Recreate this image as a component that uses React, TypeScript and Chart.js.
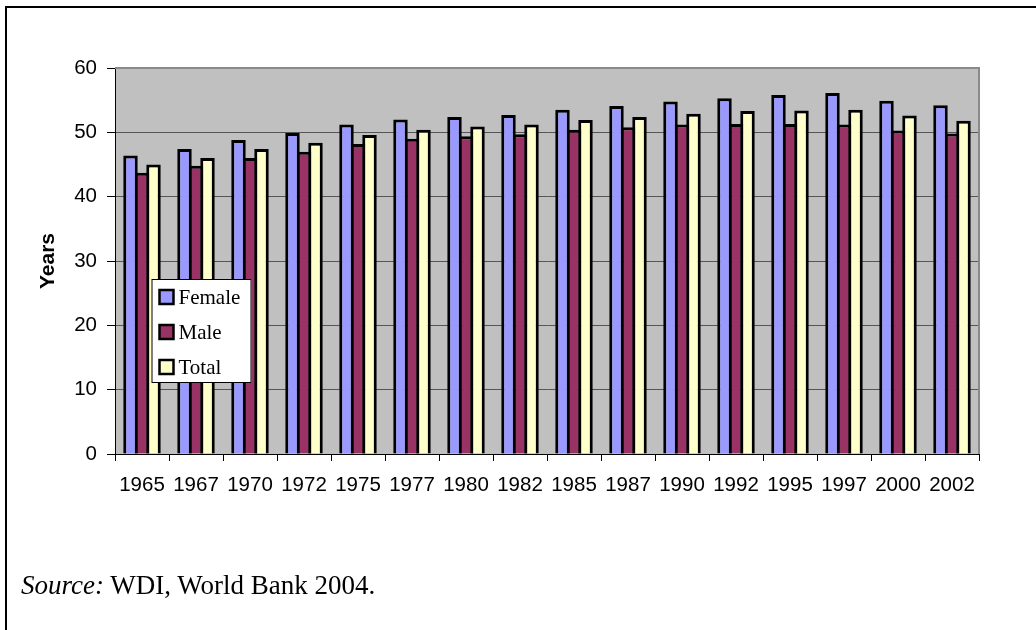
import React, { useEffect, useRef } from "react";
import { Chart, registerables } from "chart.js";

Chart.register(...registerables);

const years = ["1965", "1967", "1970", "1972", "1975", "1977", "1980", "1982", "1985", "1987", "1990", "1992", "1995", "1997", "2000", "2002"];
const female = [46.4, 47.4, 48.8, 49.9, 51.2, 52.0, 52.4, 52.7, 53.5, 54.1, 54.8, 55.3, 55.8, 56.1, 54.9, 54.2];
const male = [43.7, 44.8, 46.0, 47.0, 48.2, 49.0, 49.4, 49.7, 50.4, 50.8, 51.2, 51.3, 51.3, 51.2, 50.3, 49.8];
const total = [45.0, 46.0, 47.4, 48.4, 49.6, 50.4, 50.9, 51.2, 51.9, 52.4, 52.9, 53.3, 53.4, 53.5, 52.6, 51.8];
const seriesNames = ["Female", "Male", "Total"];
const seriesColors = ["#9999FF", "#993366", "#FFFFCC"];
const yTicks = [0, 10, 20, 30, 40, 50, 60];

const SANS = "'Liberation Sans', Arial, sans-serif";
const SERIF = "'Liberation Serif', 'Times New Roman', serif";

const plotBg = {
  id: "plotBg",
  beforeDraw(chart: any) {
    const { ctx, chartArea: a } = chart;
    ctx.save();
    ctx.fillStyle = "#C0C0C0";
    ctx.fillRect(a.left, a.top, a.right - a.left, a.bottom - a.top);
    ctx.restore();
  },
  beforeDatasetsDraw(chart: any) {
    const { ctx, chartArea: a } = chart;
    ctx.save();
    ctx.strokeStyle = "#8a8a8a";
    ctx.lineWidth = 2;
    ctx.beginPath();
    ctx.moveTo(a.left, a.top);
    ctx.lineTo(a.right, a.top);
    ctx.lineTo(a.right, a.bottom);
    ctx.stroke();
    ctx.restore();
  },
};

const boxLegend = {
  id: "boxLegend",
  afterDraw(chart: any) {
    const { ctx, chartArea: a } = chart;
    const x = a.left + 36.5;
    const y = a.top + 211;
    const w = 100;
    const h = 104;
    ctx.save();
    ctx.fillStyle = "#ffffff";
    ctx.fillRect(x, y, w, h);
    ctx.strokeStyle = "#000";
    ctx.lineWidth = 1;
    ctx.strokeRect(x + 0.5, y + 0.5, w - 1, h - 1);
    ctx.font = `21px ${SERIF}`;
    ctx.textBaseline = "middle";
    ctx.textAlign = "left";
    chart.data.datasets.forEach((ds: any, i: number) => {
      const cy = y + 18 + i * 35;
      ctx.fillStyle = ds.backgroundColor;
      ctx.fillRect(x + 8, cy - 7, 14, 14);
      ctx.strokeStyle = "#000";
      ctx.lineWidth = 2.5;
      ctx.strokeRect(x + 8, cy - 7, 14, 14);
      ctx.fillStyle = "#000";
      ctx.fillText(ds.label, x + 27, cy + 1);
    });
    ctx.restore();
  },
};

export default function App() {
  const ref = useRef<HTMLCanvasElement>(null);

  useEffect(() => {
    if (!ref.current) return;
    const values = [female, male, total];
    const chart = new Chart(ref.current, {
      type: "bar",
      data: {
        labels: years,
        datasets: values.map((v, i) => ({
          label: seriesNames[i],
          data: v,
          backgroundColor: seriesColors[i],
          borderColor: "#000",
          borderWidth: 3,
          borderSkipped: "bottom",
          categoryPercentage: 0.639,
          barPercentage: 1.26,
        })),
      },
      options: {
        animation: false,
        responsive: false,
        maintainAspectRatio: false,
        layout: { padding: { left: 0, top: 68, right: 57, bottom: 0 } },
        plugins: { legend: { display: false }, tooltip: { enabled: false }, title: { display: false } },
        scales: {
          x: {
            type: "category",
            offset: true,
            grid: { offset: true, drawOnChartArea: false, tickLength: 7, tickColor: "#000", tickWidth: 1 },
            border: { color: "#000", width: 1 },
            ticks: { color: "#000", font: { family: SANS, size: 20.5 }, padding: 12, maxRotation: 0, autoSkip: false },
            afterFit: (s: any) => {
              s.height = 176;
            },
          },
          y: {
            min: 0,
            max: 60,
            afterBuildTicks: (s: any) => {
              s.ticks = yTicks.map((v) => ({ value: v }));
            },
            grid: { color: "#555555", lineWidth: 1, tickLength: 8, tickColor: "#000" },
            border: { color: "#000", width: 1 },
            ticks: { color: "#000", font: { family: SANS, size: 20.5 }, padding: 10 },
            title: {
              display: true,
              text: "Years",
              color: "#000",
              font: { family: SANS, size: 21, weight: "bold" },
              padding: { top: 36, bottom: 0 },
            },
            afterFit: (s: any) => {
              s.width = 115;
            },
          },
        },
      },
      plugins: [plotBg, boxLegend],
    });
    return () => chart.destroy();
  }, []);

  return (
    <div style={{ position: "fixed", left: 0, top: 0, width: 1036, height: 630, background: "#fff", overflow: "hidden" }}>
      <canvas ref={ref} width={1036} height={630} style={{ position: "absolute", left: 0, top: 0, width: 1036, height: 630 }} />
      <div
        style={{
          position: "absolute",
          left: 5,
          top: 6,
          width: 1040,
          height: 640,
          borderTop: "2px solid #000",
          borderLeft: "2px solid #000",
          pointerEvents: "none",
        }}
      />
      <div
        style={{
          position: "absolute",
          left: 21,
          top: 572,
          fontFamily: SERIF,
          fontSize: 27,
          lineHeight: "27px",
          color: "#000",
          whiteSpace: "nowrap",
        }}
      >
        <i>Source:</i> WDI, World Bank 2004.
      </div>
    </div>
  );
}
